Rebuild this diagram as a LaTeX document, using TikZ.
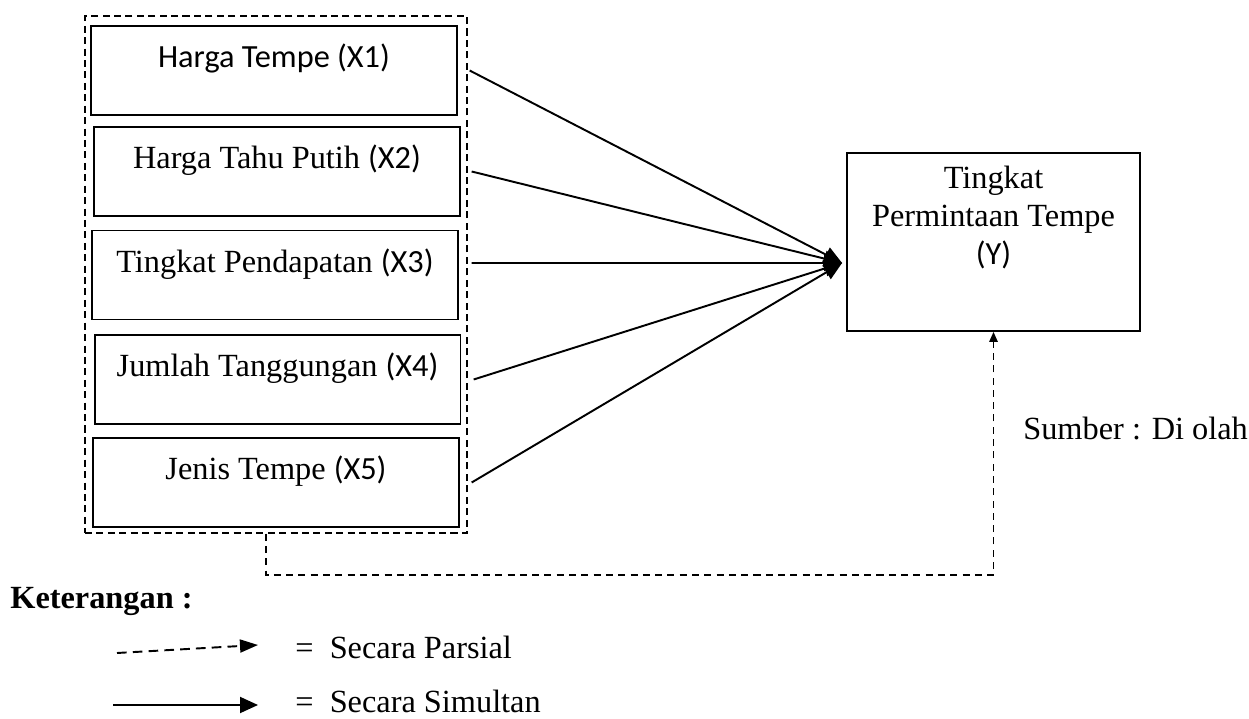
\documentclass[tikz,border=0pt]{standalone}
\usepackage{fontspec}
\setmainfont{Liberation Serif}
\newfontfamily\calfont{Carlito}
\usetikzlibrary{arrows.meta,calc}
\newcommand{\vlab}[1]{{\calfont(#1)}}

\begin{document}
\begin{tikzpicture}
[x=0.02cm, y=-0.02cm, font=\fontsize{18.4}{21.5}\selectfont,
 var/.style={draw, line width=1.1pt, inner sep=0pt, minimum width=7.32cm, text height=0.84cm, text depth=0.94cm},
 simul/.style={line width=1.1pt, -{Triangle[length=0.36cm, width=0.32cm]}},
 parsial/.style={line width=0.8pt, dash pattern=on 4pt off 3pt, -{Triangle[length=0.2cm, width=0.17cm]}},
 keyarrow/.style={line width=1.1pt, dash pattern=on 5.5pt off 3.5pt, -{Triangle[length=0.36cm, width=0.26cm]}}]

\useasboundingbox (0,0) rectangle (1249,719);

\node (grp) at (276, 274.5) [draw, line width=0.8pt, dash pattern=on 4pt off 2.5pt, minimum width=7.64cm, minimum height=10.34cm] {};
\node (x1) at (274, 70.5) [var] {\calfont Harga Tempe (X1)};
\node (x2) at (277, 171.5) [var] {Harga Tahu Putih \vlab{X2}};
\node (x3) at (275, 275) [var] {Tingkat Pendapatan \vlab{X3}};
\node (x4) at (277.5, 379.5) [var] {Jumlah Tanggungan \vlab{X4}};
\node (x5) at (276, 482.5) [var] {Jenis Tempe \vlab{X5}};
\node (y) at (993.5, 242) [draw, line width=1.1pt, minimum width=5.86cm, minimum height=3.56cm] {};
\node (ytext) at ([yshift=-0.28cm]y.north) [anchor=north, align=center, inner sep=0pt] {Tingkat\\Permintaan Tempe\\\vlab{Y}};
\node (src) at (1023, 440) [anchor=base west, inner sep=0pt] {Sumber : Di olah};

\coordinate (tip) at ([xshift=-0.08cm, yshift=-0.42cm]y.west);
\draw [simul] ([xshift=0.04cm]grp.east |- x1) -- (tip);
\draw [simul] ([xshift=0.08cm]grp.east |- x2) -- (tip);
\draw [simul] ([xshift=0.08cm, yshift=0.24cm]grp.east |- x3) -- (tip);
\draw [simul] ([xshift=0.12cm]grp.east |- x4) -- (tip);
\draw [simul] ([xshift=0.08cm]grp.east |- x5) -- (tip);

\coordinate (bend) at (266, 575);
\draw [parsial] (grp.south -| bend) -- (bend) -| (y.south);

% keterangan
\node (ket) at (10, 609) [anchor=base west, inner sep=0pt, font=\fontsize{18.4}{21.5}\selectfont\bfseries] {Keterangan :};
\coordinate (pa) at (117, 653);
\coordinate (pb) at (258, 645);
\draw [keyarrow] (pa) -- (pb);
\node (parsial) at (295, 659) [anchor=base west, inner sep=0pt] {=\hspace{0.5em}Secara Parsial};
\coordinate (sa) at (113, 705);
\coordinate (sb) at (258, 705);
\draw [simul] (sa) -- (sb);
\node (simultan) at (295, 713) [anchor=base west, inner sep=0pt] {=\hspace{0.5em}Secara Simultan};
\end{tikzpicture}
\end{document}
